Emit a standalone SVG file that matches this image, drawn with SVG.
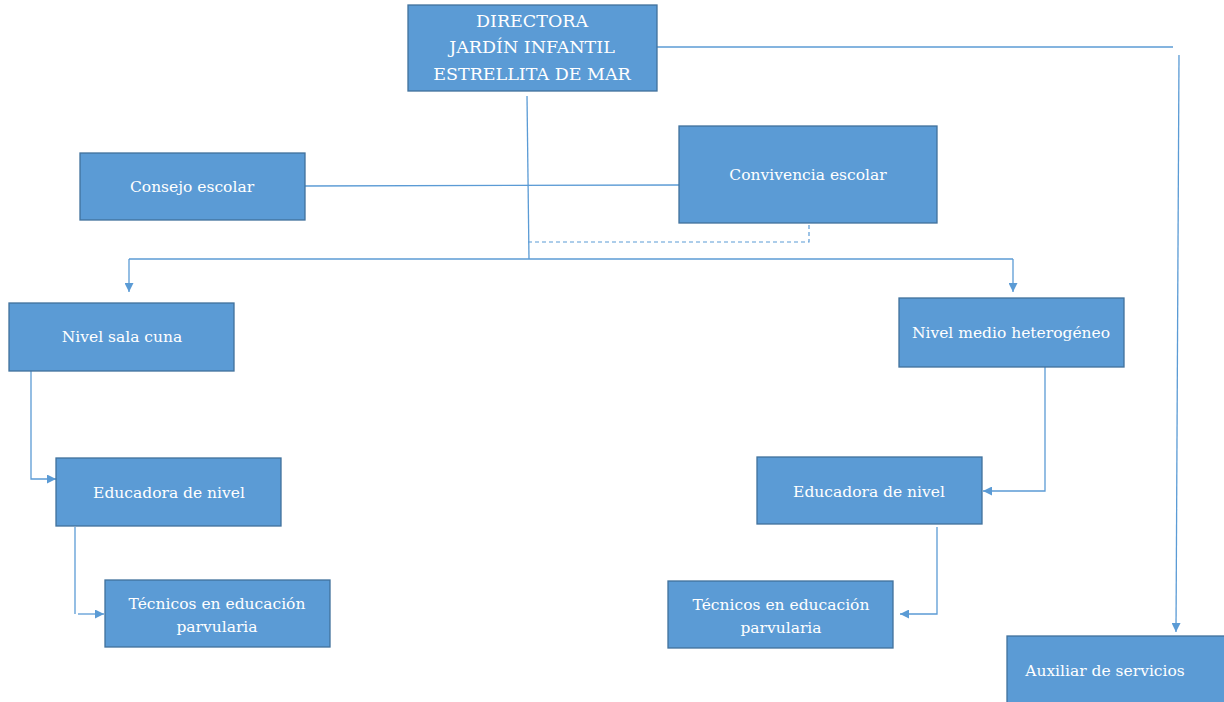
<svg xmlns="http://www.w3.org/2000/svg" width="1224" height="702" viewBox="0 0 1224 702">
<defs>
<style>
.box{fill:#5B9BD5;stroke:#41719C;stroke-width:1.3}
.t{font-family:'DejaVu Serif',serif;font-size:15.5px;fill:#fff;text-anchor:middle}
.tb{font-family:'DejaVu Serif',serif;font-size:17.5px;fill:#fff;text-anchor:middle}
.c{fill:none;stroke:#5B9BD5;stroke-width:1.3}
.d{fill:none;stroke:#5B9BD5;stroke-width:1.2;stroke-dasharray:4 3}
</style>
<marker id="ah" viewBox="0 0 10 10" refX="10" refY="5" markerWidth="9" markerHeight="9" markerUnits="userSpaceOnUse" orient="auto"><path d="M0,0 L10,5 L0,10 z" fill="#5B9BD5"/></marker>
</defs>
<rect width="1224" height="702" fill="#fff"/>
<g id="connectors">
<path class="c" d="M657,47 H1173"/>
<path class="c" d="M1179,55 L1176,632" marker-end="url(#ah)"/>
<path class="c" d="M305,186 L679,185"/>
<path class="c" d="M527,96 L529,259"/>
<path class="d" d="M528,242 H809 V224"/>
<path class="c" d="M129,259 H1013"/>
<path class="c" d="M129,259 V292" marker-end="url(#ah)"/>
<path class="c" d="M1013,259 V292" marker-end="url(#ah)"/>
<path class="c" d="M31,371 V479 H56" marker-end="url(#ah)"/>
<path class="c" d="M75,527 V614"/>
<path class="c" d="M78,614 H104" marker-end="url(#ah)"/>
<path class="c" d="M1045,367 V491 H983" marker-end="url(#ah)"/>
<path class="c" d="M937,527 V614 H900" marker-end="url(#ah)"/>
</g>
<g id="directora"><rect class="box" x="408" y="5" width="249" height="86"/>
<text class="tb" x="532" y="27">DIRECTORA</text>
<text class="tb" x="532" y="53">JARDÍN INFANTIL</text>
<text class="tb" x="532" y="80">ESTRELLITA DE MAR</text></g>
<g id="consejo"><rect class="box" x="80" y="153" width="225" height="67"/><text class="t" x="192" y="192">Consejo escolar</text></g>
<g id="convivencia"><rect class="box" x="679" y="126" width="258" height="97"/><text class="t" x="808" y="180">Convivencia escolar</text></g>
<g id="salacuna"><rect class="box" x="9" y="303" width="225" height="68"/><text class="t" x="122" y="342">Nivel sala cuna</text></g>
<g id="medio"><rect class="box" x="899" y="298" width="225" height="69"/><text class="t" x="1011" y="338">Nivel medio heterogéneo</text></g>
<g id="educadora1"><rect class="box" x="56" y="458" width="225" height="68"/><text class="t" x="169" y="498">Educadora de nivel</text></g>
<g id="tecnicos1"><rect class="box" x="105" y="580" width="225" height="67"/><text class="t" x="217" y="609">Técnicos en educación</text><text class="t" x="217" y="632">parvularia</text></g>
<g id="educadora2"><rect class="box" x="757" y="457" width="225" height="67"/><text class="t" x="869" y="497">Educadora de nivel</text></g>
<g id="tecnicos2"><rect class="box" x="668" y="581" width="225" height="67"/><text class="t" x="781" y="610">Técnicos en educación</text><text class="t" x="781" y="633">parvularia</text></g>
<g id="auxiliar"><rect class="box" x="1007" y="636" width="225" height="70"/><text class="t" x="1105" y="676">Auxiliar de servicios</text></g>
</svg>
